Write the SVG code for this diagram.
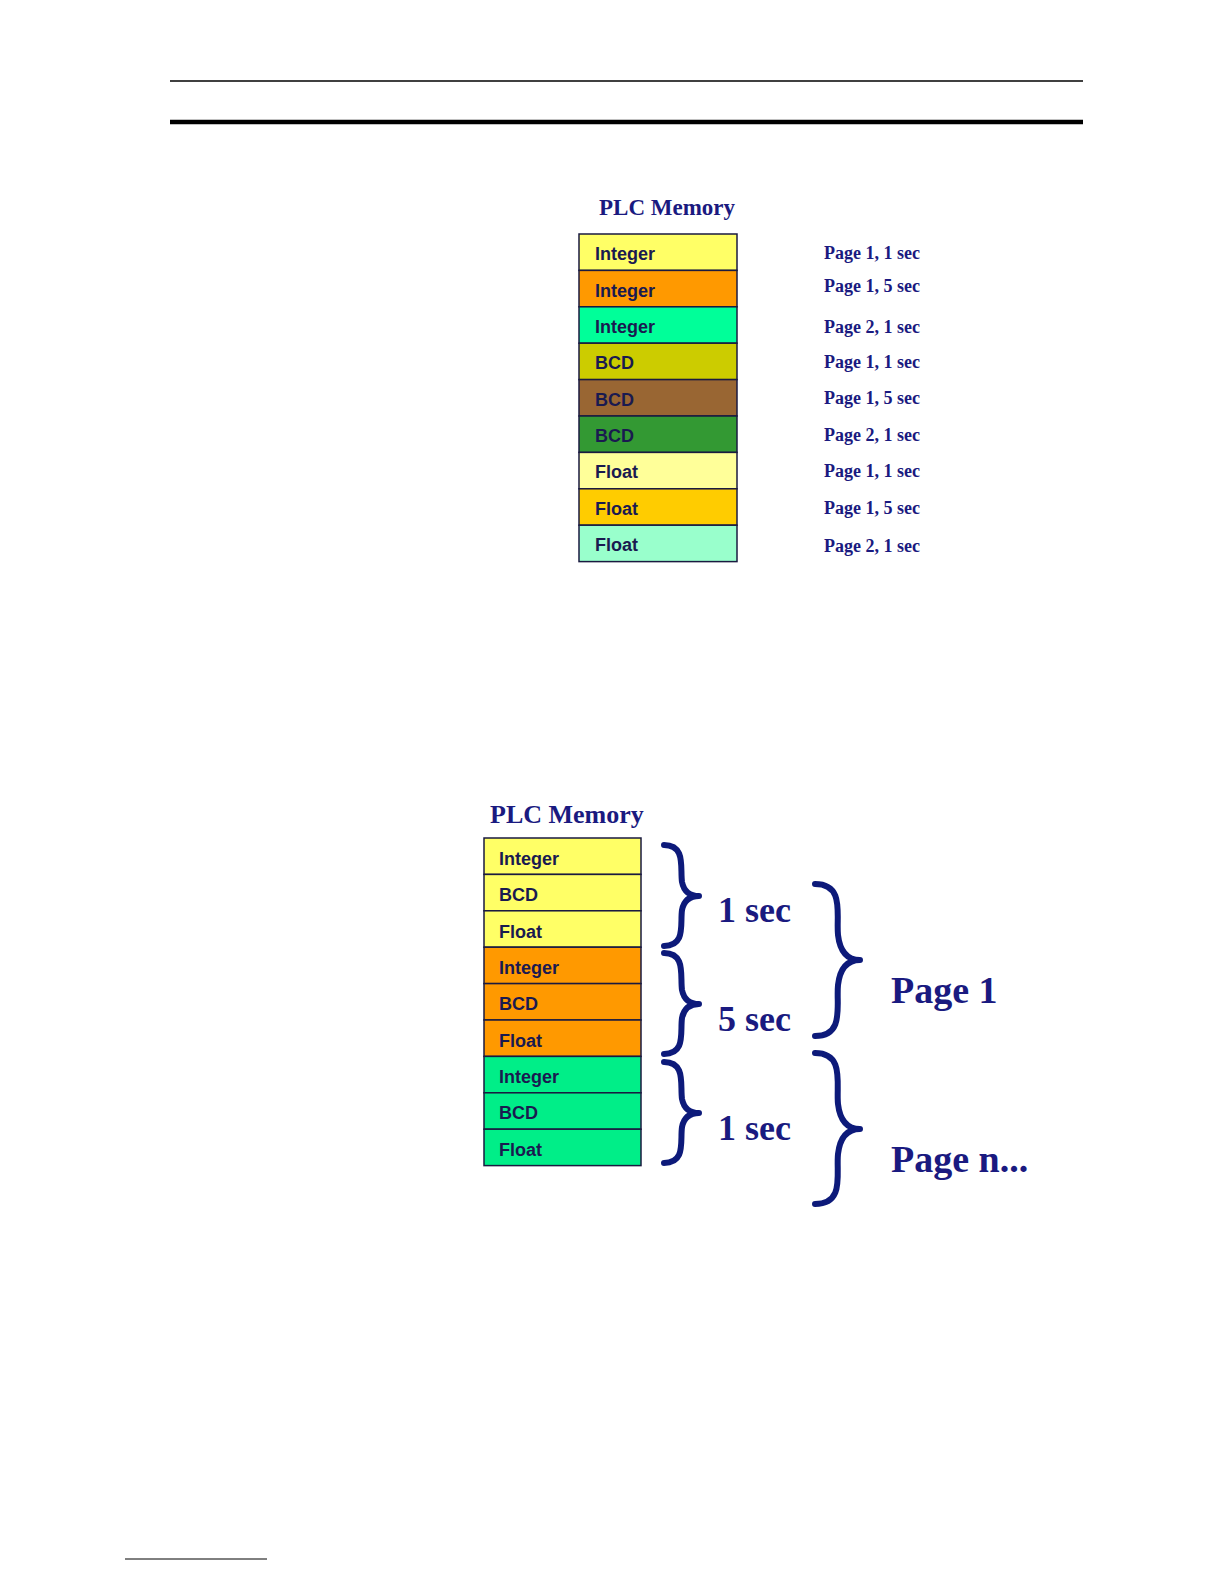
<svg xmlns="http://www.w3.org/2000/svg" width="1224" height="1584" viewBox="0 0 1224 1584">
<style>
.cell{stroke:#1a1a40;stroke-width:1.5}
.ct{font-family:"Liberation Sans",Arial,sans-serif;font-weight:bold;font-size:18px;fill:#1a1a50}
.ser{font-family:"Liberation Serif","Times New Roman",serif;font-weight:bold;fill:#1a1a80}
.br{fill:none;stroke:#0d1a7a;stroke-width:6;stroke-linecap:round;stroke-linejoin:round}
</style>
<rect width="1224" height="1584" fill="#fff"/>
<line x1="170" y1="81" x2="1083" y2="81" stroke="#000" stroke-width="1.5"/>
<line x1="170" y1="122" x2="1083" y2="122" stroke="#000" stroke-width="4.5"/>
<line x1="125" y1="1559" x2="267" y2="1559" stroke="#000" stroke-width="1"/>

<g id="top-memory">
<text class="ser" x="599" y="215" font-size="23">PLC Memory</text>
<rect class="cell" x="579" y="234" width="158" height="36.4" fill="#ffff66"/>
<rect class="cell" x="579" y="270.4" width="158" height="36.4" fill="#ff9900"/>
<rect class="cell" x="579" y="306.8" width="158" height="36.4" fill="#00ff99"/>
<rect class="cell" x="579" y="343.2" width="158" height="36.4" fill="#cccc00"/>
<rect class="cell" x="579" y="379.6" width="158" height="36.4" fill="#996633"/>
<rect class="cell" x="579" y="416" width="158" height="36.4" fill="#339933"/>
<rect class="cell" x="579" y="452.4" width="158" height="36.4" fill="#ffff99"/>
<rect class="cell" x="579" y="488.8" width="158" height="36.4" fill="#ffcc00"/>
<rect class="cell" x="579" y="525.2" width="158" height="36.4" fill="#99ffcc"/>
<text class="ct" x="595" y="260">Integer</text>
<text class="ct" x="595" y="297">Integer</text>
<text class="ct" x="595" y="333">Integer</text>
<text class="ct" x="595" y="369">BCD</text>
<text class="ct" x="595" y="406">BCD</text>
<text class="ct" x="595" y="442">BCD</text>
<text class="ct" x="595" y="478">Float</text>
<text class="ct" x="595" y="515">Float</text>
<text class="ct" x="595" y="551">Float</text>
</g>
<g id="top-labels" class="ser" font-size="18">
<text class="ser" x="824" y="259">Page 1,  1 sec</text>
<text class="ser" x="824" y="292">Page 1,  5 sec</text>
<text class="ser" x="824" y="333">Page 2,  1 sec</text>
<text class="ser" x="824" y="368">Page 1,  1 sec</text>
<text class="ser" x="824" y="404">Page 1,  5 sec</text>
<text class="ser" x="824" y="441">Page 2,  1 sec</text>
<text class="ser" x="824" y="477">Page 1,  1 sec</text>
<text class="ser" x="824" y="514">Page 1,  5 sec</text>
<text class="ser" x="824" y="552">Page 2,  1 sec</text>
</g>

<g id="bottom-memory">
<text class="ser" x="490" y="823" font-size="26">PLC Memory</text>
<rect class="cell" x="484" y="838" width="157" height="36.4" fill="#ffff66"/>
<rect class="cell" x="484" y="874.4" width="157" height="36.4" fill="#ffff66"/>
<rect class="cell" x="484" y="910.8" width="157" height="36.4" fill="#ffff66"/>
<rect class="cell" x="484" y="947.2" width="157" height="36.4" fill="#ff9900"/>
<rect class="cell" x="484" y="983.6" width="157" height="36.4" fill="#ff9900"/>
<rect class="cell" x="484" y="1020" width="157" height="36.4" fill="#ff9900"/>
<rect class="cell" x="484" y="1056.4" width="157" height="36.4" fill="#00ee88"/>
<rect class="cell" x="484" y="1092.8" width="157" height="36.4" fill="#00ee88"/>
<rect class="cell" x="484" y="1129.2" width="157" height="36.4" fill="#00ee88"/>
<text class="ct" x="499" y="865">Integer</text>
<text class="ct" x="499" y="901">BCD</text>
<text class="ct" x="499" y="938">Float</text>
<text class="ct" x="499" y="974">Integer</text>
<text class="ct" x="499" y="1010">BCD</text>
<text class="ct" x="499" y="1047">Float</text>
<text class="ct" x="499" y="1083">Integer</text>
<text class="ct" x="499" y="1119">BCD</text>
<text class="ct" x="499" y="1156">Float</text>
</g>

<g id="braces">
<path class="br" d="M664,845 C686,845 680,868 682,882 C684,892 690,896 699,896 C690,896 684,900 682,910 C680,924 686,946 664,946"/>
<path class="br" d="M664,953 C686,953 680,976 682,990 C684,1000 690,1004 699,1004 C690,1004 684,1008 682,1018 C680,1032 686,1054 664,1054"/>
<path class="br" d="M664,1062 C686,1062 680,1085 682,1099 C684,1109 690,1113 699,1113 C690,1113 684,1117 682,1127 C680,1141 686,1163 664,1163"/>
<path class="br" d="M815,884 C845,884 836,915 838,935 C840,952 848,960 860,960 C848,960 840,968 838,985 C836,1005 845,1036 815,1036"/>
<path class="br" d="M815,1053 C845,1053 836,1084 838,1104 C840,1121 848,1129 860,1129 C848,1129 840,1137 838,1154 C836,1174 845,1204 815,1204"/>
</g>
<g id="brace-labels">
<text class="ser" x="718" y="922" font-size="36">1 sec</text>
<text class="ser" x="718" y="1031" font-size="36">5 sec</text>
<text class="ser" x="718" y="1140" font-size="36">1 sec</text>
<text class="ser" x="891" y="1003" font-size="38">Page 1</text>
<text class="ser" x="891" y="1172" font-size="38">Page n...</text>
</g>
</svg>
